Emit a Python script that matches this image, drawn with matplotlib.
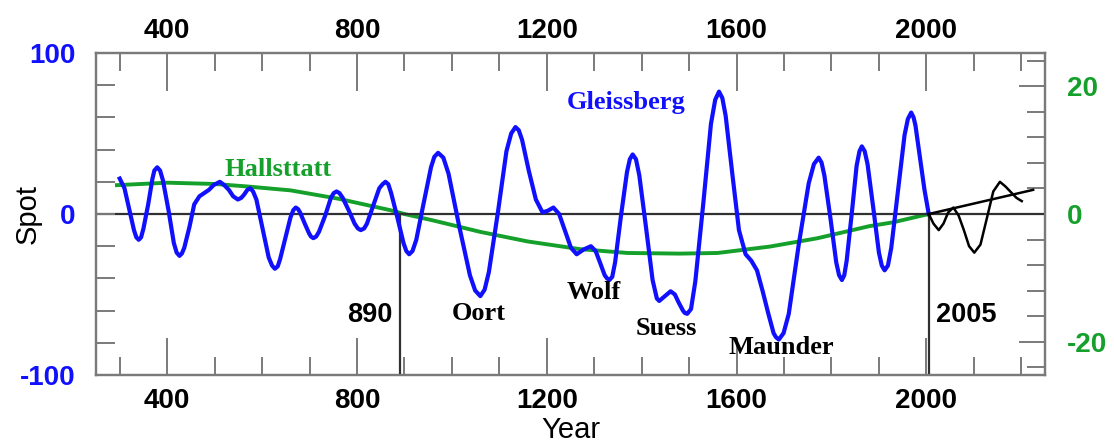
import numpy as np
import matplotlib
matplotlib.use("Agg")
import matplotlib.pyplot as plt

plt.rcParams['font.family'] = ['Liberation Sans', 'DejaVu Sans']
plt.rcParams['axes.unicode_minus'] = False

# blue reconstructed sunspot curve (Spot units)
blue_year = [300, 310, 320, 330, 335, 340, 345, 350, 360, 369, 373, 379, 385, 391, 403, 414,
             420, 426, 431, 436, 447, 457, 468, 488, 498, 511, 520, 530, 539, 549, 556, 562,
             569, 575, 581, 588, 601, 614, 621, 627, 633, 638, 649, 660, 666, 671, 676, 680,
             690, 699, 703, 708, 714, 720, 733, 745, 751, 757, 763, 770, 783, 795, 802, 808,
             815, 821, 834, 847, 854, 860, 866, 872, 885, 898, 904, 910, 917, 925, 940, 956,
             963, 971, 982, 993, 1015, 1038, 1049, 1060, 1069, 1078, 1097, 1115, 1125, 1134,
             1141, 1148, 1162, 1177, 1191, 1202, 1214, 1226, 1238, 1251, 1263, 1278, 1293,
             1303, 1312, 1322, 1327, 1332, 1338, 1344, 1356, 1369, 1375, 1381, 1388, 1395,
             1409, 1423, 1432, 1437, 1449, 1461, 1470, 1478, 1487, 1491, 1496, 1504, 1513,
             1530, 1546, 1555, 1563, 1570, 1577, 1591, 1605, 1619, 1631, 1643, 1655, 1667,
             1678, 1683, 1689, 1699, 1710, 1731, 1752, 1763, 1773, 1779, 1785, 1798, 1810,
             1816, 1822, 1827, 1832, 1843, 1853, 1859, 1864, 1870, 1876, 1888, 1900, 1906,
             1912, 1919, 1926, 1940, 1954, 1961, 1968, 1973, 1977, 1987, 1996, 2005]
blue_spot = [22, 16, 3, -10, -14.5, -16, -14.5, -9, 6, 22, 27, 29, 27, 21, 2, -18,
             -24, -26, -24.5, -21, -8, 6, 11, 15, 18, 20, 18, 15, 11, 9, 10, 12,
             15, 16, 14, 9, -9, -27, -32, -34, -32.5, -28, -15, -2, 2.5, 4, 3, 1,
             -6, -12, -14, -15, -14, -11, -1, 10, 13, 14, 13, 10, 2, -6, -9, -10,
             -9, -6, 5, 16, 18.5, 20, 18.5, 13, -2, -18, -23, -25, -23, -16, 6, 29,
             35.5, 38, 35, 25, -7, -38, -47.5, -51, -47, -36, 1, 39, 50, 54,
             52, 46, 27, 9, 1, 2, 4, 0, -10, -21, -25, -22, -20,
             -23, -30, -38, -40, -41, -39, -30, -2, 26, 34, 37, 34, 24,
             -8, -41, -52.5, -54, -51, -48, -50, -55, -60, -61.5, -62, -59, -42,
             7, 56, 71, 76, 72, 61, 25, -10, -25, -29, -35, -48, -62,
             -74, -76.5, -78, -74, -62, -19, 19, 31, 35, 32, 24, -3, -30,
             -38, -41, -38, -29, 1, 30, 39, 42, 39, 31, 4, -24, -32,
             -35, -32, -21, 14, 49, 59, 63, 60, 55, 34, 15, 0]

# black forecast after 2005
black_year = [2005, 2015, 2026, 2036, 2046, 2057, 2068, 2079, 2090, 2101, 2114, 2128, 2141,
              2155, 2167, 2180, 2190, 2201]
black_spot = [0, -6, -10, -6, 1, 4, -1, -10, -20, -24, -19, -2, 14, 20, 17, 13, 10, 8]

# black trend line
trend_year = [2005, 2225]
trend_spot = [0, 15]

# green Hallstatt cycle (right axis units)
green_year = [290, 400, 500, 570, 660, 760, 870, 900, 960, 1060, 1160, 1270, 1370, 1480,
              1560, 1670, 1770, 1880, 1930, 2005]
green_val = [4.5, 4.9, 4.7, 4.3, 3.7, 2.4, 0.6, 0.0, -1.0, -2.8, -4.3, -5.5, -6.1, -6.2,
             -6.1, -5.1, -3.8, -1.9, -1.3, 0.0]

minima = ['Oort', 'Wolf', 'Suess', 'Maunder']
minima_x = [1056, 1300, 1451, 1694]
minima_y = [-61.5, -49, -71, -83]

xmajor = [400, 800, 1200, 1600, 2000]

blue = '#1010ff'
green = '#14a02a'
frame = '#7a7a7a'

fig = plt.figure(figsize=(11.14, 4.43), dpi=100)
ax = fig.add_axes([96 / 1114, 68 / 443, 949 / 1114, 322 / 443])
ax2 = ax.twinx()
ax.set_zorder(ax2.get_zorder() + 1)
ax.patch.set_visible(False)

ax.axhline(0, color='#303030', lw=1.6, zorder=1)
ax.plot([890, 890], [0, -100], color='#303030', lw=1.6, zorder=1)
ax.plot([2005, 2005], [0, -100], color='#303030', lw=1.6, zorder=1)

ax2.plot(green_year, green_val, color=green, lw=2.8, solid_capstyle='butt')
ax.plot(blue_year, blue_spot, color=blue, lw=3, solid_joinstyle='round', zorder=3)
ax.plot(black_year, black_spot, color='black', lw=1.8, solid_joinstyle='round', zorder=3)
ax.plot(trend_year, trend_spot, color='black', lw=1.8, zorder=3)

ax.set_xlim(250, 2250)
ax.set_ylim(-100, 100)
ax2.set_ylim(-25.2, 25.2)

ax.set_xticks(xmajor)
ax.set_xticks(range(300, 2250, 100), minor=True)
ax.set_yticks([-100, 0, 100])
ax.set_yticks(range(-80, 81, 20), minor=True)
ax2.set_yticks([-20, 0, 20])
ax2.set_yticks(range(-24, 25, 4), minor=True)

ax.tick_params(axis='x', which='major', direction='in', length=27, width=1.4, color=frame,
               top=True, labelsize=20, pad=9)
ax.tick_params(axis='x', which='minor', direction='in', length=13, width=1.4, color=frame,
               top=True)
ax.tick_params(axis='y', which='both', direction='in', length=13.5, width=1.4, color=frame,
               labelsize=20, labelcolor=blue, pad=15)
ax2.tick_params(axis='y', which='major', direction='in', length=19, width=1.4, color=frame,
                labelsize=20, labelcolor=green, pad=16)
ax2.tick_params(axis='y', which='minor', direction='in', length=13, width=1.4, color=frame)

# top labels, a bit closer to the frame than the bottom ones
top = ax.secondary_xaxis('top')
top.set_xticks(xmajor)
top.tick_params(axis='x', length=0, labelsize=20, pad=6.5)
top.spines['top'].set_visible(False)
for lab in top.get_xticklabels():
    lab.set_fontweight('bold')

for lab in ax.get_xticklabels() + ax.get_yticklabels() + ax2.get_yticklabels():
    lab.set_fontweight('bold')

for a in (ax, ax2):
    for s in a.spines.values():
        s.set_color(frame)
        s.set_linewidth(1.6)

ax.set_xlabel('Year', fontsize=21, labelpad=2)
ax.set_ylabel('Spot', fontsize=21)
ax.yaxis.set_label_coords(-0.057, 0.5)

serif = ['Liberation Serif', 'DejaVu Serif']
ax.text(633, 27.5, 'Hallsttatt', color=green, fontsize=19, fontweight='bold',
        family=serif, ha='center', va='center')
ax.text(1367, 69, 'Gleissberg', color=blue, fontsize=19, fontweight='bold',
        family=serif, ha='center', va='center')
for name, x, y in zip(minima, minima_x, minima_y):
    ax.text(x, y, name, color='black', fontsize=19, fontweight='bold',
            family=serif, ha='center', va='center')
ax.text(875, -63, '890', fontsize=19.5, fontweight='bold', ha='right', va='center')
ax.text(2021, -63, '2005', fontsize=19.5, fontweight='bold', ha='left', va='center')

fig.savefig('out.png', dpi=100)
